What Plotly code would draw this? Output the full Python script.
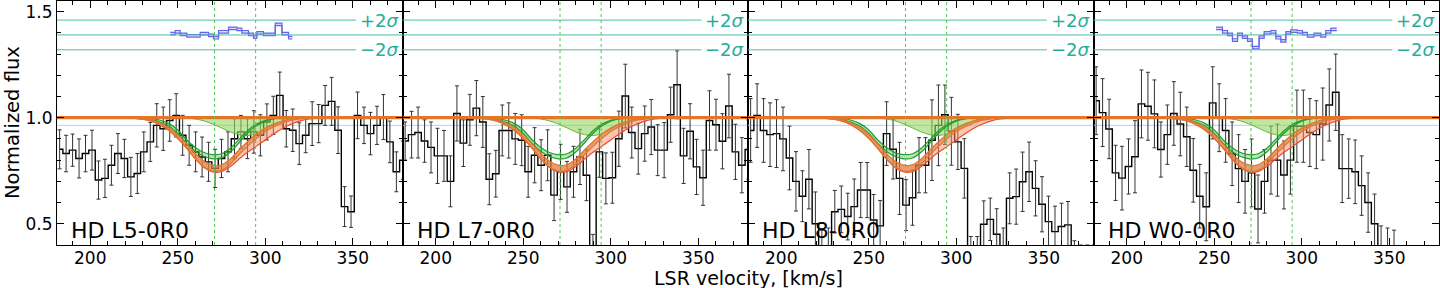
import plotly.graph_objects as go

# ---------------- data ----------------
PANELS = ["HD L5-0R0", "HD L7-0R0", "HD L8-0R0", "HD W0-0R0"]

VEL = [182.5, 186.2, 189.9, 193.6, 197.3, 201.0, 204.7, 208.4, 212.1, 215.8,
       219.5, 223.2, 226.9, 230.6, 234.3, 238.0, 241.7, 245.4, 249.1, 252.8,
       256.5, 260.2, 263.9, 267.6, 271.3, 275.0, 278.7, 282.4, 286.1, 289.8,
       293.5, 297.2, 300.9, 304.6, 308.3, 312.0, 315.7, 319.4, 323.1, 326.8,
       330.5, 334.2, 337.9, 341.6, 345.3, 349.0, 352.7, 356.4, 360.1, 363.8,
       367.5, 371.2, 374.9, 378.6]

FLUX_L5 = [0.851, 0.831, 0.847, 0.808, 0.831, 0.847, 0.706, 0.714, 0.776, 0.831,
           0.808, 0.721, 0.737, 0.839, 0.886, 0.964, 0.948, 0.987, 1.011, 0.917,
           0.870, 0.839, 0.815, 0.792, 0.761, 0.808, 0.839, 0.901, 0.933, 0.901,
           0.933, 0.917, 0.980, 1.011, 1.105, 0.948, 0.941, 0.878, 0.917, 0.972,
           0.972, 1.058, 1.077, 0.941, 0.581, 0.557, 1.011, 0.964, 0.925, 0.964,
           1.003, 0.886, 0.745, 0.800]
ERR_L5 = [0.092, 0.086, 0.076, 0.092, 0.086, 0.094, 0.090, 0.090, 0.094, 0.094,
          0.090, 0.092, 0.094, 0.094, 0.092, 0.102, 0.102, 0.098, 0.102, 0.094,
          0.094, 0.094, 0.094, 0.092, 0.090, 0.090, 0.094, 0.094, 0.078, 0.094,
          0.100, 0.097, 0.085, 0.090, 0.110, 0.086, 0.100, 0.098, 0.082, 0.103,
          0.090, 0.094, 0.113, 0.110, 0.094, 0.074, 0.110, 0.086, 0.100, 0.090,
          0.106, 0.098, 0.094, 0.090]

FLUX_L7 = [0.890, 0.920, 0.930, 0.890, 0.860, 0.820, 0.820, 0.700, 1.020, 0.880,
           0.990, 1.045, 0.980, 0.710, 0.736, 0.940, 0.940, 0.900, 0.894, 0.745,
           0.823, 0.776, 0.823, 0.635, 0.745, 0.674, 0.745, 0.815, 0.729, 0.300,
           0.839, 0.714, 0.717, 0.901, 1.102, 0.930, 0.854, 0.925, 0.956, 0.847,
           0.847, 1.014, 1.155, 0.820, 0.936, 0.768, 0.717, 0.987, 0.967, 0.889,
           1.055, 0.839, 0.776, 0.850]
ERR_L7 = [0.09, 0.11, 0.12, 0.10, 0.12, 0.13, 0.12, 0.12, 0.13, 0.11,
          0.12, 0.13, 0.12, 0.12, 0.11, 0.12, 0.13, 0.12, 0.12, 0.12,
          0.13, 0.12, 0.12, 0.12, 0.13, 0.12, 0.12, 0.13, 0.12, 0.15,
          0.12, 0.12, 0.12, 0.13, 0.15, 0.12, 0.12, 0.13, 0.13, 0.12,
          0.13, 0.13, 0.16, 0.13, 0.13, 0.13, 0.13, 0.14, 0.12, 0.13,
          0.15, 0.13, 0.13, 0.14]

FLUX_L8 = [0.940, 1.010, 0.940, 0.920, 0.925, 0.900, 0.810, 0.700, 0.630, 0.710,
           0.500, 0.320, 0.330, 0.557, 0.568, 0.534, 0.581, 0.659, 0.659, 0.518,
           0.490, 0.925, 0.851, 0.714, 0.588, 0.623, 0.776, 0.776, 0.894, 0.964,
           1.014, 0.936, 0.886, 0.761, 0.300, 0.300, 0.498, 0.521, 0.451, 0.360,
           0.620, 0.628, 0.698, 0.745, 0.667, 0.592, 0.510, 0.463, 0.487, 0.495,
           0.300, 0.280, 0.280, 0.280]
ERR_L8 = [0.15, 0.15, 0.15, 0.15, 0.16, 0.15, 0.15, 0.14, 0.12, 0.14,
          0.15, 0.15, 0.15, 0.10, 0.11, 0.11, 0.13, 0.13, 0.13, 0.12,
          0.12, 0.15, 0.14, 0.17, 0.12, 0.13, 0.13, 0.13, 0.19, 0.19,
          0.14, 0.16, 0.13, 0.14, 0.14, 0.14, 0.11, 0.10, 0.12, 0.12,
          0.12, 0.13, 0.14, 0.14, 0.13, 0.13, 0.12, 0.12, 0.11, 0.11,
          0.12, 0.12, 0.12, 0.12]

FLUX_W0 = [1.080, 1.024, 0.947, 0.740, 0.715, 0.770, 0.816, 1.065, 1.054, 1.018,
           0.850, 0.920, 1.020, 0.970, 0.910, 0.752, 0.630, 0.580, 1.070, 1.000,
           0.940, 0.830, 0.760, 0.700, 0.740, 0.570, 0.700, 0.800, 0.800, 0.730,
           0.800, 0.960, 0.960, 0.930, 0.920, 0.970, 1.060, 1.120, 0.760, 0.760,
           0.745, 0.680, 0.600, 0.500, 0.350, 0.340, 0.330, 0.250, 0.250, 0.250,
           0.250, 0.250, 0.250, 0.250]
ERR_W0 = [0.16, 0.16, 0.14, 0.13, 0.15, 0.13, 0.17, 0.16, 0.16, 0.16,
          0.13, 0.14, 0.15, 0.15, 0.14, 0.15, 0.15, 0.16, 0.17, 0.16,
          0.15, 0.15, 0.16, 0.15, 0.16, 0.16, 0.15, 0.16, 0.17, 0.16,
          0.16, 0.17, 0.17, 0.16, 0.16, 0.17, 0.17, 0.18, 0.16, 0.14,
          0.15, 0.14, 0.14, 0.14, 0.14, 0.14, 0.14, 0.10, 0.10, 0.10,
          0.10, 0.10, 0.10, 0.10]

FLUXES = [FLUX_L5, FLUX_L7, FLUX_L8, FLUX_W0]
ERRS = [ERR_L5, ERR_L7, ERR_L8, ERR_W0]

# model profiles
MV = [215, 220, 225, 230, 235, 240, 245, 250, 255, 260, 265, 270, 275,
      280, 285, 290, 295, 300, 305, 310, 315, 320, 325, 330, 335, 340]
TOT_UP = [1.0, 1.0, 0.999, 0.996, 0.989, 0.975, 0.952, 0.920, 0.877, 0.832, 0.795, 0.776, 0.778,
          0.805, 0.848, 0.888, 0.923, 0.951, 0.971, 0.985, 0.994, 0.998, 1.0, 1.0, 1.0, 1.0]
TOT_LO = [1.0, 0.999, 0.997, 0.993, 0.984, 0.966, 0.940, 0.903, 0.857, 0.808, 0.768, 0.748, 0.752,
          0.782, 0.826, 0.866, 0.903, 0.935, 0.958, 0.976, 0.988, 0.995, 0.999, 1.0, 1.0, 1.0]
RED_LO = [1.0, 0.999, 0.997, 0.993, 0.984, 0.966, 0.940, 0.903, 0.857, 0.806, 0.765, 0.744, 0.746,
          0.770, 0.805, 0.838, 0.866, 0.895, 0.924, 0.950, 0.970, 0.985, 0.994, 0.998, 1.0, 1.0]
C1_UP = [1.0, 1.0, 1.0, 1.0, 0.995, 0.988, 0.972, 0.942, 0.896, 0.860, 0.836, 0.826, 0.830,
         0.856, 0.897, 0.940, 0.970, 0.988, 0.996, 0.999, 1.0, 1.0, 1.0, 1.0, 1.0, 1.0]
C1_LO = [1.0, 1.0, 1.0, 0.998, 0.990, 0.978, 0.960, 0.926, 0.880, 0.842, 0.817, 0.806, 0.810,
         0.838, 0.882, 0.928, 0.962, 0.984, 0.994, 0.998, 1.0, 1.0, 1.0, 1.0, 1.0, 1.0]
C2 = [1.0, 1.0, 1.0, 1.0, 1.0, 1.0, 1.0, 0.999, 0.998, 0.994, 0.985, 0.970, 0.952,
      0.933, 0.920, 0.916, 0.925, 0.946, 0.968, 0.985, 0.994, 0.998, 1.0, 1.0, 1.0, 1.0]
CONTINUUM = 1.0
LOWER_GUIDE = 0.964
COMP_VEL = [271.0, 294.5]

# residual panels (bin edges and values), only panels 1 and 4
RES_EDGE_L5 = [245.7, 248.5, 251.4, 255.2, 262.8, 267.6, 270.4, 273.3, 279.0, 283.8,
               286.6, 290.4, 293.3, 295.2, 299.0, 305.7, 309.5, 313.3, 315.5]
RES_L5 = [1.396, 1.405, 1.393, 1.386, 1.396, 1.388, 1.377, 1.405, 1.421, 1.416,
          1.405, 1.393, 1.380, 1.400, 1.393, 1.440, 1.396, 1.377]
RES_EDGE_W0 = [251.0, 254.7, 257.6, 260.4, 263.3, 266.1, 269.0, 271.8, 275.6, 278.5,
               282.3, 285.2, 288.0, 290.9, 293.7, 297.5, 300.4, 303.2, 307.0, 310.9,
               313.7, 316.6, 320.0]
RES_W0 = [1.421, 1.405, 1.393, 1.366, 1.393, 1.380, 1.366, 1.330, 1.380, 1.400,
          1.405, 1.377, 1.362, 1.400, 1.408, 1.405, 1.396, 1.386, 1.393, 1.386,
          1.405, 1.416]
RESIDUALS = [(RES_EDGE_L5, RES_L5), None, None, (RES_EDGE_W0, RES_W0)]
RES_CENTER = 1.39
RES_2SIG = 0.07

XRANGE = [181, 378.4]
YRANGE = [0.4, 1.55]

# ---------------- figure ----------------
FONT = "DejaVu Sans"
ORANGE = "#e2772c"
fig = go.Figure()

n = len(PANELS)
for i in range(n):
    ax = "" if i == 0 else str(i + 1)
    xr, yr = "x" + ax, "y" + ax
    flux, err = FLUXES[i], ERRS[i]

    fig.add_trace(go.Scatter(x=XRANGE, y=[LOWER_GUIDE] * 2, mode="lines",
                             line=dict(color="#a3d6f0", width=1), xaxis=xr, yaxis=yr,
                             showlegend=False, hoverinfo="skip"))
    fig.add_trace(go.Scatter(x=VEL, y=flux, mode="lines",
                             line=dict(shape="hvh", color="black", width=1.4),
                             xaxis=xr, yaxis=yr, showlegend=False))
    fig.add_trace(go.Scatter(x=VEL, y=flux, mode="markers",
                             marker=dict(size=1, color="rgba(0,0,0,0)"),
                             error_y=dict(type="data", array=err, color="#333333",
                                          thickness=1, width=2),
                             xaxis=xr, yaxis=yr, showlegend=False))
    # component 2 (light green, filled down from the continuum)
    fig.add_trace(go.Scatter(x=MV, y=[CONTINUUM] * len(MV), mode="lines",
                             line=dict(color="rgba(0,0,0,0)", width=0),
                             xaxis=xr, yaxis=yr, showlegend=False, hoverinfo="skip"))
    fig.add_trace(go.Scatter(x=MV, y=C2, mode="lines", fill="tonexty",
                             fillcolor="rgba(150,215,95,0.6)",
                             line=dict(color="#64b83a", width=1, shape="spline"),
                             xaxis=xr, yaxis=yr, showlegend=False))
    # salmon band (total upper -> red lower)
    fig.add_trace(go.Scatter(x=MV, y=TOT_UP, mode="lines",
                             line=dict(color="rgba(0,0,0,0)", width=0, shape="spline"),
                             xaxis=xr, yaxis=yr, showlegend=False, hoverinfo="skip"))
    fig.add_trace(go.Scatter(x=MV, y=RED_LO, mode="lines", fill="tonexty",
                             fillcolor="rgba(248,140,105,0.5)",
                             line=dict(color="#ee4a2a", width=1.2, shape="spline"),
                             xaxis=xr, yaxis=yr, showlegend=False))
    # component 1 (green band)
    fig.add_trace(go.Scatter(x=MV, y=C1_UP, mode="lines",
                             line=dict(color="#1f9e2a", width=1.2, shape="spline"),
                             xaxis=xr, yaxis=yr, showlegend=False))
    fig.add_trace(go.Scatter(x=MV, y=C1_LO, mode="lines", fill="tonexty",
                             fillcolor="rgba(60,170,60,0.35)",
                             line=dict(color="#1f9e2a", width=1.2, shape="spline"),
                             xaxis=xr, yaxis=yr, showlegend=False))
    # orange total band
    fig.add_trace(go.Scatter(x=MV, y=TOT_UP, mode="lines",
                             line=dict(color=ORANGE, width=1.3, shape="spline"),
                             xaxis=xr, yaxis=yr, showlegend=False))
    fig.add_trace(go.Scatter(x=MV, y=TOT_LO, mode="lines", fill="tonexty",
                             fillcolor="rgba(205,120,45,0.5)",
                             line=dict(color=ORANGE, width=1.3, shape="spline"),
                             xaxis=xr, yaxis=yr, showlegend=False))
    fig.add_trace(go.Scatter(x=XRANGE, y=[CONTINUUM] * 2, mode="lines",
                             line=dict(color=ORANGE, width=3.2),
                             xaxis=xr, yaxis=yr, showlegend=False, hoverinfo="skip"))

    for lvl, full in [(RES_CENTER + RES_2SIG, False), (RES_CENTER, True),
                      (RES_CENTER - RES_2SIG, False)]:
        fig.add_shape(type="line", xref=xr + " domain", yref=yr,
                      x0=0, x1=1 if full else 0.865, y0=lvl, y1=lvl,
                      line=dict(color="#4cbcaa", width=1))
    fig.add_annotation(text="+2<i>σ</i>", xref=xr + " domain", yref=yr, x=0.995,
                       y=RES_CENTER + RES_2SIG, xanchor="right", yanchor="middle",
                       showarrow=False, font=dict(family=FONT, size=18, color="#26ad9b"))
    fig.add_annotation(text="−2<i>σ</i>", xref=xr + " domain", yref=yr, x=0.995,
                       y=RES_CENTER - RES_2SIG, xanchor="right", yanchor="middle",
                       showarrow=False, font=dict(family=FONT, size=18, color="#26ad9b"))

    if RESIDUALS[i] is not None:
        edges, vals = RESIDUALS[i]
        yv = vals + [vals[-1]]
        fig.add_trace(go.Scatter(x=edges, y=[v + 0.006 for v in yv], mode="lines",
                                 line=dict(shape="hv", color="#6464ec", width=1.2),
                                 xaxis=xr, yaxis=yr, showlegend=False))
        fig.add_trace(go.Scatter(x=edges, y=[v - 0.006 for v in yv], mode="lines",
                                 fill="tonexty", fillcolor="rgba(190,190,255,0.6)",
                                 line=dict(shape="hv", color="#6464ec", width=1.2),
                                 xaxis=xr, yaxis=yr, showlegend=False))

    for cv in COMP_VEL:
        fig.add_shape(type="line", xref=xr, yref=yr + " domain", x0=cv, x1=cv,
                      y0=0, y1=1, line=dict(color="#5cbf5c", width=1, dash="dot"))

    fig.add_annotation(text=PANELS[i], xref=xr + " domain", yref=yr, x=0.035, y=0.47,
                       xanchor="left", yanchor="middle", showarrow=False,
                       font=dict(family=FONT, size=22, color="black"))

for i in range(n):
    ax = "" if i == 0 else str(i + 1)
    d0, d1 = i / n, (i + 1) / n
    fig.layout["xaxis" + ax] = dict(
        domain=[d0, d1], anchor="y" + ax, range=XRANGE, tickvals=[200, 250, 300, 350],
        ticks="inside", ticklen=7, tickwidth=1, tickcolor="black",
        ticklabelstandoff=-2,
        minor=dict(dtick=10, tick0=0, ticks="inside", ticklen=4, tickcolor="black"),
        showline=True, linecolor="black", linewidth=1, mirror="allticks",
        showgrid=False, zeroline=False, automargin=False,
        tickfont=dict(family=FONT, size=17, color="black"))
    fig.layout["yaxis" + ax] = dict(
        domain=[0, 1], anchor="x" + ax, range=YRANGE,
        tickvals=[0.5, 1.0, 1.5], ticktext=["0.5", "1.0", "1.5"],
        showticklabels=(i == 0),
        ticks="inside", ticklen=7, tickwidth=1, tickcolor="black",
        minor=dict(dtick=0.1, tick0=0, ticks="inside", ticklen=4, tickcolor="black"),
        showline=True, linecolor="black", linewidth=1, mirror="allticks",
        showgrid=False, zeroline=False, automargin=False,
        tickfont=dict(family=FONT, size=17, color="black"))

fig.add_annotation(text="LSR velocity, [km/s]", xref="paper", yref="paper",
                   x=0.5, y=-0.137, xanchor="center", yanchor="middle", showarrow=False,
                   font=dict(family=FONT, size=19, color="black"))
fig.add_annotation(text="Normalized flux", xref="paper", yref="paper",
                   x=-0.0325, y=0.5, xanchor="center", yanchor="middle", textangle=-90,
                   showarrow=False, font=dict(family=FONT, size=19.5, color="black"))

fig.update_layout(width=1440, height=288, margin=dict(l=57, r=1, t=1, b=43, autoexpand=False),
                  template="none", plot_bgcolor="white", paper_bgcolor="white",
                  showlegend=False)

fig.write_html("out.html", config={"displayModeBar": False},
               post_script="document.body.style.margin='0px';"
                           "document.body.style.overflow='hidden';")
